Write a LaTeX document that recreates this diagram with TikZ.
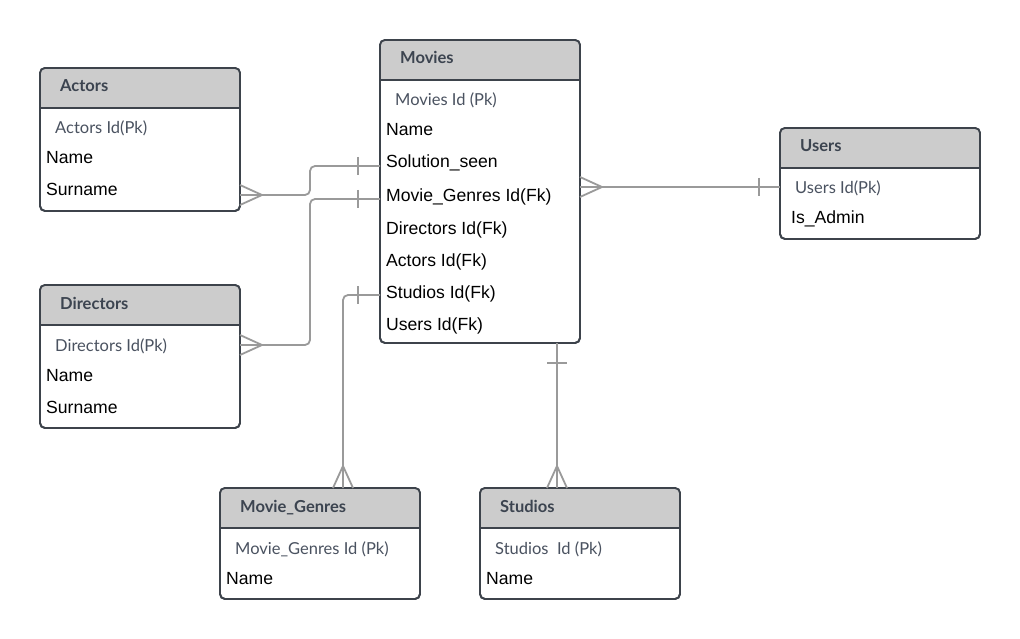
\documentclass[tikz,border=0pt]{standalone}
\usepackage{fontspec}
\setmainfont{Liberation Sans}
\newfontfamily\hdrfont{Lato}
\usetikzlibrary{calc}
\definecolor{bord}{HTML}{3D434B}
\definecolor{hdrfill}{HTML}{CCCCCC}
\definecolor{hdrtext}{HTML}{3C4450}
\definecolor{pktext}{HTML}{4A5260}
\definecolor{conn}{HTML}{9A9A9A}
\newcommand\erent[6]{% name, x, ytop, height, title, pk
  \node[ebox, minimum height=#4pt] (#1) at (#2,#3) {};
  \fill[hdrfill, rounded corners=5pt] (#2,#3) rectangle (#2+200,#3+40);
  \fill[hdrfill] (#2,#3+20) rectangle (#2+200,#3+40);
  \draw[bord, line width=1.8pt] (#2,#3+40) -- (#2+200,#3+40);
  \draw[bord, line width=1.8pt, rounded corners=5pt] (#1.north west) rectangle (#1.south east);
  \node[etitle] (#1-t) at (#2+20,#3+24) {#5};
  \node[pk] (#1-pk) at (#2+15,#3+66) {#6};
}
\begin{document}
\begin{tikzpicture}[x=1pt,y=-1pt,
  ebox/.style={draw=bord, line width=1.8pt, rounded corners=5pt, fill=white, minimum width=200pt, inner sep=0pt, outer sep=0pt, anchor=north west},
  etitle/.style={anchor=base west, font=\hdrfont\bfseries\fontsize{16.5}{19}\selectfont, text=hdrtext, inner sep=0pt},
  pk/.style={anchor=base west, font=\hdrfont\fontsize{16.5}{19}\selectfont, text=pktext, inner sep=0pt},
  fld/.style={anchor=base west, font=\fontsize{17.6}{20}\selectfont, text=black, inner sep=0pt},
  rel/.style={draw=conn, line width=1.8pt},
  ]
\fill[white] (0,0) rectangle (1020,639);
\useasboundingbox (0,0) rectangle (1020,639);

% entities
\erent{movies}{380}{40}{303}{Movies}{Movies Id (Pk)}
\foreach \t/\yy [count=\i from 0] in {Name/136,Solution\_seen/168,Movie\_Genres Id(Fk)/202,Directors Id(Fk)/234,Actors Id(Fk)/266,Studios Id(Fk)/298,Users Id(Fk)/330}
  \node[fld] (movies-f\i) at (386,\yy) {\t};

\erent{actors}{40}{68}{143}{Actors}{Actors Id(Pk)}
\node[fld] (actors-f0) at (46,164) {Name};
\node[fld] (actors-f1) at (46,196) {Surname};

\erent{directors}{40}{285}{143}{Directors}{Directors Id(Pk)}
\node[fld] (directors-f0) at (46,381) {Name};
\node[fld] (directors-f1) at (46,413) {Surname};

\erent{users}{780}{128}{111}{Users}{Users Id(Pk)}
\node[fld] (users-f0) at (791,224) {Is\_Admin};

\erent{genres}{220}{488}{111}{Movie\_Genres}{Movie\_Genres Id (Pk)}
\node[fld] (genres-f0) at (226,584) {Name};

\erent{studios}{480}{488}{111}{Studios}{Studios\ \ Id (Pk)}
\node[fld] (studios-f0) at (486,584) {Name};

% Actors -- Movies
\draw[rel, rounded corners=5pt] ($(actors.south east)+(0,-16)$) -- ++(70,0) |- ($(movies.north west)+(0,126)$);
\draw[rel] ($(actors.south east)+(0,-26)$) -- ($(actors.south east)+(22,-16)$) -- ($(actors.south east)+(0,-6)$);
\draw[rel] ($(movies.north west)+(-22,117)$) -- ++(0,18);

% Directors -- Movies
\draw[rel, rounded corners=5pt] ($(directors.north east)+(0,60)$) -- ++(70,0) |- ($(movies.north west)+(0,159)$);
\draw[rel] ($(directors.north east)+(0,50)$) -- ($(directors.north east)+(22,60)$) -- ($(directors.north east)+(0,70)$);
\draw[rel] ($(movies.north west)+(-22,150)$) -- ++(0,18);

% Movie_Genres -- Movies
\draw[rel, rounded corners=5pt] ($(genres.north west)+(123,0)$) |- ($(movies.north west)+(0,255)$);
\draw[rel] ($(genres.north west)+(113,0)$) -- ($(genres.north west)+(123,-22)$) -- ($(genres.north west)+(133,0)$);
\draw[rel] ($(movies.north west)+(-22,246)$) -- ++(0,18);

% Studios -- Movies
\draw[rel] ($(studios.north west)+(77,0)$) -- ($(movies.south west)+(177,0)$);
\draw[rel] ($(studios.north west)+(67,0)$) -- ($(studios.north west)+(77,-22)$) -- ($(studios.north west)+(87,0)$);
\draw[rel] ($(movies.south west)+(167,20)$) -- ++(20,0);

% Users -- Movies
\draw[rel] ($(movies.north east)+(0,147)$) -- ($(users.north west)+(0,59)$);
\draw[rel] ($(movies.north east)+(0,137)$) -- ($(movies.north east)+(22,147)$) -- ($(movies.north east)+(0,157)$);
\draw[rel] ($(users.north west)+(-21,50)$) -- ++(0,18);
\end{tikzpicture}
\end{document}
